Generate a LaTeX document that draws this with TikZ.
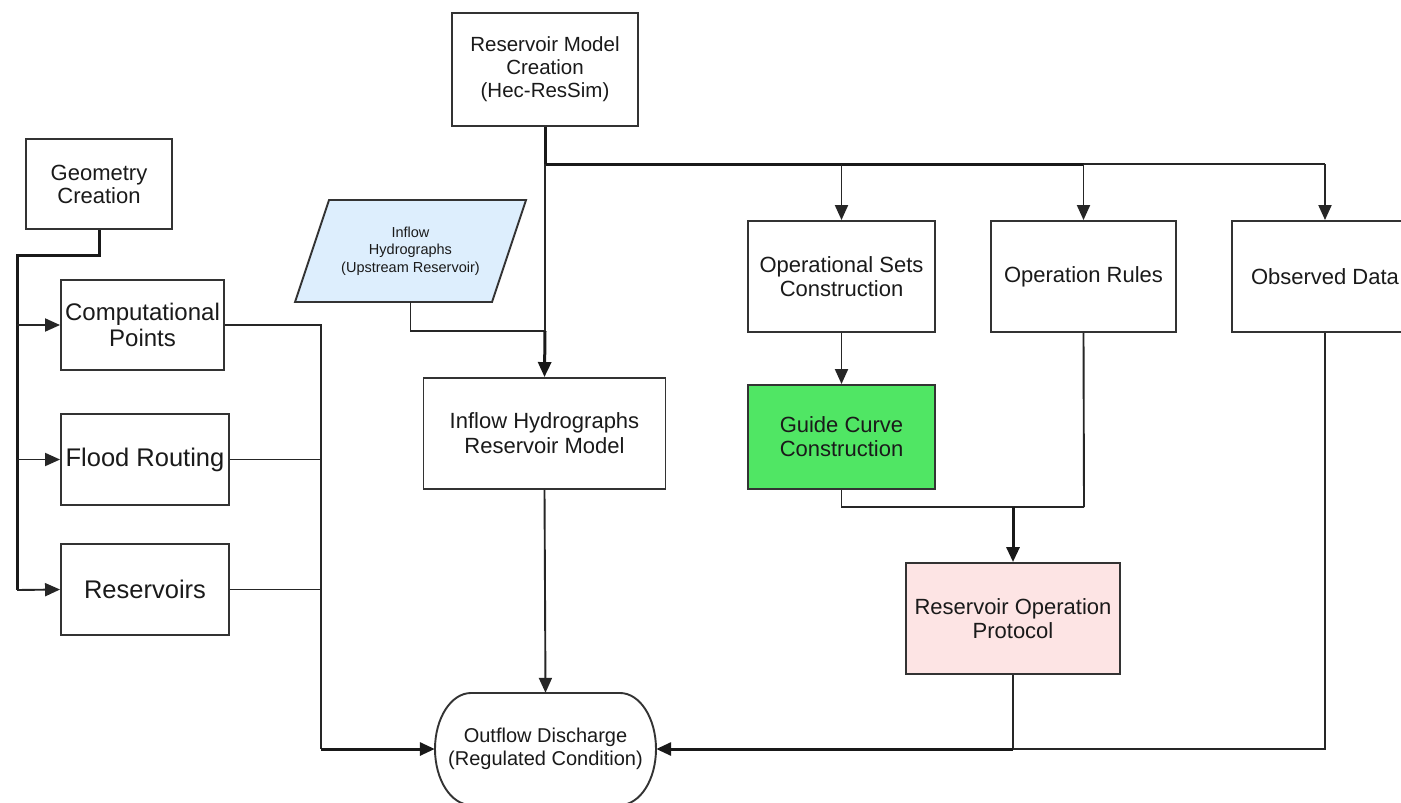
\documentclass[tikz,border=0pt]{standalone}
\usepackage{fontspec}
\setmainfont{Liberation Sans}
\usetikzlibrary{arrows.meta}
\definecolor{parblue}{HTML}{DDEEFD}
\definecolor{gcgreen}{HTML}{50E664}
\definecolor{roppink}{HTML}{FDE4E4}
\definecolor{edge}{HTML}{333333}
\definecolor{txt}{HTML}{1A1A1A}
\begin{document}
\begin{tikzpicture}[x=1pt,y=-1pt,
  box/.style={draw=edge, line width=1.9pt, inner sep=0pt, align=center, text=txt},
  ln/.style={line width=1.9pt, draw=black!85},
  tk/.style={line width=3pt, draw=black!90},
  tip/.style={-{Triangle[length=15pt,width=13pt]}},
  fa/.style={font=\fontsize{22}{24}\selectfont},
]
\useasboundingbox (0,0) rectangle (1401,803);
\clip (0,0) rectangle (1401,803);
\fill[white] (0,0) rectangle (1401,803);

% nodes
\node[box, font=\fontsize{22}{23}\selectfont, minimum width=146pt, minimum height=90pt] (geo) at (99,184) {Geometry\\Creation};
\node[box, font=\fontsize{24}{26}\selectfont, minimum width=163pt, minimum height=90pt] (cp) at (142.5,325) {Computational\\Points};
\node[box, font=\fontsize{25.5}{27}\selectfont, minimum width=168pt, minimum height=91pt] (fr) at (145,459.5) {Flood Routing};
\node[box, font=\fontsize{25.5}{27}\selectfont, minimum width=168pt, minimum height=91pt] (res) at (145,589.5) {Reservoirs};
\node[box, font=\fontsize{20.5}{23}\selectfont, minimum width=186pt, minimum height=113pt] (rm) at (545,69.5) {Reservoir Model\\Creation\\(Hec-ResSim)};

\filldraw[fill=parblue, draw=edge, line width=1.9pt] (295,302) -- (329,200) -- (526,200) -- (492,302) -- cycle;
\node[inner sep=0pt, align=center, text=txt, font=\fontsize{14.5}{17.5}\selectfont, minimum width=160pt, minimum height=102pt] (par) at (410.5,251) {Inflow\\Hydrographs\\(Upstream Reservoir)};

\node[box, font=\fontsize{22}{25}\selectfont, minimum width=242pt, minimum height=111pt] (ihm) at (544.5,433.5) {Inflow Hydrographs\\Reservoir Model};
\node[box, fa, minimum width=187pt, minimum height=111pt] (ops) at (841.5,276.5) {Operational Sets\\Construction};
\node[box, fa, minimum width=185pt, minimum height=111pt] (orl) at (1083.5,276.5) {Operation Rules};
\node[box, fa, minimum width=186pt, minimum height=111pt] (obs) at (1325,276.5) {Observed Data};
\node[box, fa, fill=gcgreen, minimum width=187pt, minimum height=104pt] (gcc) at (841.5,437) {Guide Curve\\Construction};
\node[box, fa, fill=roppink, minimum width=214pt, minimum height=111pt] (rop) at (1013,618.5) {Reservoir Operation\\Protocol};
\node[inner sep=0pt, align=center, text=txt, font=\fontsize{20}{23}\selectfont, minimum width=221pt, minimum height=112pt] (out) at (545.5,749) {Outflow Discharge\\(Regulated Condition)};
\draw[draw=edge, line width=1.9pt] (471,693) -- (620,693)
  arc[start angle=-90, end angle=90, x radius=36, y radius=56] -- (471,805)
  arc[start angle=90, end angle=270, x radius=36, y radius=56] -- cycle;

% coordinates
\coordinate (gL) at (17,255);
\coordinate (gB) at (17,590);
\coordinate (mL) at (321,749);
\coordinate (tB) at (545,164);
\coordinate (jn) at (545,331);
\coordinate (gj) at (1084,507);
\coordinate (bj) at (1013,749);

% left group
\draw[tk] (geo.south) |- (gL) -- (gB);
\draw[ln,tip] (cp.west -| gL) -- (cp.west);
\draw[ln,tip] (fr.west -| gL) -- (fr.west);
\draw[ln,tip] (gB) -- (res.west);
\draw[ln] (cp.east) -| (mL);
\draw[ln] (fr.east) -- (fr.east -| mL);
\draw[ln] (res.east) -- (res.east -| mL);
\draw[tk,tip] (mL) -- (out.west);

% top group
\draw[tk] (rm.south) -- (tB);
\draw[tk] (tB) -- (tB -| orl.north);
\draw[ln] (tB -| orl.north) -- (tB -| obs.north);
\draw[ln,tip] (tB -| ops.north) -- (ops.north);
\draw[ln,tip] (tB -| orl.north) -- (orl.north);
\draw[ln,tip] (tB -| obs.north) -- (obs.north);
\draw[ln] (tB) -- (jn);
\draw[ln] (par.south) |- (jn);
\draw[tk,tip] (jn) -- (ihm.north);
\draw[ln,tip] (ihm.south) -- (out.north);

% right group
\draw[ln,tip] (ops.south) -- (gcc.north);
\draw[ln] (gcc.south) |- (gj);
\draw[ln] (orl.south) -- (gj);
\draw[tk,tip] (rop.north |- gj) -- (rop.north);
\draw[ln] (rop.south) -- (bj);
\draw[ln] (obs.south) |- (bj);
\draw[tk,tip] (bj) -- (out.east);
\end{tikzpicture}
\end{document}
